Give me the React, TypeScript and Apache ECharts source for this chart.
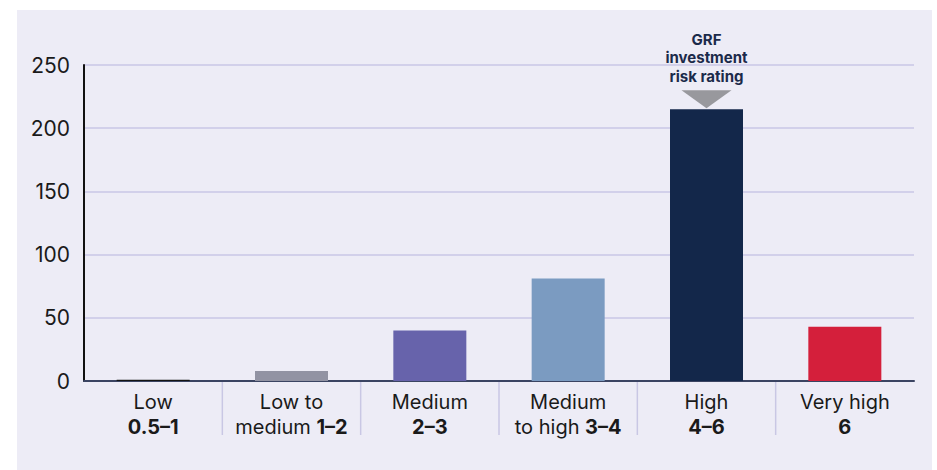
import React, { useEffect, useRef } from "react";
import * as echarts from "echarts";

// Risk rating bands (x axis)
const ratingNames = ["Low", "Low to medium", "Medium", "Medium to high", "High", "Very high"];
const labelTop = ["Low", "Low to", "Medium", "Medium", "High", "Very high"];
const labelPlain = ["", "medium ", "", "to high ", "", ""];
const labelBold = ["0.5–1", "1–2", "2–3", "3–4", "4–6", "6"];

// Count per band
const counts = [1, 8, 40, 81, 215, 43];
const barColors = ["#141414", "#9293a3", "#6763ab", "#7b9bc1", "#13274a", "#d41f3b"];

// Y axis ticks
const yMin = 0;
const yMax = 250;
const yStep = 50;

// Annotated band
const highlightIndex = 4;
const highlightText = ["GRF", "investment", "risk rating"];

const FONT = "Inter, 'Noto Sans', sans-serif";

export default function App() {
  const ref = useRef<HTMLDivElement>(null);

  useEffect(() => {
    if (!ref.current) return;
    const chart = echarts.init(ref.current, null, { renderer: "svg" });

    const option: any = {
      animation: false,
      textStyle: { fontFamily: FONT },
      graphic: [
        {
          type: "rect",
          z: -10,
          silent: true,
          shape: { x: 17, y: 10, width: 915, height: 460 },
          style: { fill: "#edecf6" },
        },
      ],
      grid: { left: 84, right: 23, top: 65, bottom: 89 },
      xAxis: {
        type: "category",
        data: ratingNames,
        axisLine: { lineStyle: { color: "#3b4462", width: 2 } },
        axisTick: { show: false },
        axisLabel: {
          interval: 0,
          margin: 8,
          formatter: (_v: string, i: number) =>
            `{n|${labelTop[i]}}\n{n|${labelPlain[i]}}{b|${labelBold[i]}}`,
          rich: {
            n: { fontSize: 20, color: "#1a1a1a", lineHeight: 25, fontFamily: FONT },
            b: { fontSize: 20, color: "#1a1a1a", lineHeight: 25, fontWeight: "bold", fontFamily: FONT },
          },
        },
      },
      yAxis: {
        type: "value",
        min: yMin,
        max: yMax,
        interval: yStep,
        axisLine: { show: true, lineStyle: { color: "#111111", width: 2 } },
        axisTick: { show: false },
        axisLabel: { fontSize: 21, color: "#1a1a1a", margin: 14, fontFamily: FONT },
        splitLine: { lineStyle: { color: "#c9c7e6", width: 1.5 } },
      },
      series: [
        {
          type: "bar",
          barWidth: 73,
          data: counts.map((v, i) => ({ value: v, itemStyle: { color: barColors[i] } })),
          z: 3,
          markPoint: {
            symbol: "triangle",
            symbolSize: [50, 18],
            symbolRotate: 180,
            symbolOffset: [0, -10],
            itemStyle: { color: "#98989d" },
            label: {
              show: true,
              position: "top",
              distance: 5,
              formatter: highlightText.map((t) => `{a|${t}}`).join("\n"),
              rich: {
                a: {
                  fontSize: 15,
                  lineHeight: 18.2,
                  fontWeight: "bold",
                  color: "#1b2a4a",
                  fontFamily: FONT,
                  align: "center",
                },
              },
            },
            data: [{ coord: [ratingNames[highlightIndex], counts[highlightIndex]] }],
          },
        },
        {
          // separators between band labels, below the axis
          type: "custom",
          silent: true,
          clip: false,
          z: 1,
          data: ratingNames.slice(1).map((_, k) => [k + 1, 0]),
          renderItem: (_params: any, api: any) => {
            const idx = api.value(0);
            const c = api.coord([idx, 0]);
            const w = api.size([1, 0])[0];
            const x = c[0] - w / 2;
            return {
              type: "line",
              shape: { x1: x, y1: c[1] + 1, x2: x, y2: c[1] + 54 },
              style: { stroke: "#c9c7e4", lineWidth: 1.5 },
            };
          },
        },
      ],
    };

    chart.setOption(option);
    return () => chart.dispose();
  }, []);

  return (
    <div
      ref={ref}
      style={{ position: "fixed", left: 0, top: 0, width: 937, height: 470, background: "#ffffff" }}
    />
  );
}
